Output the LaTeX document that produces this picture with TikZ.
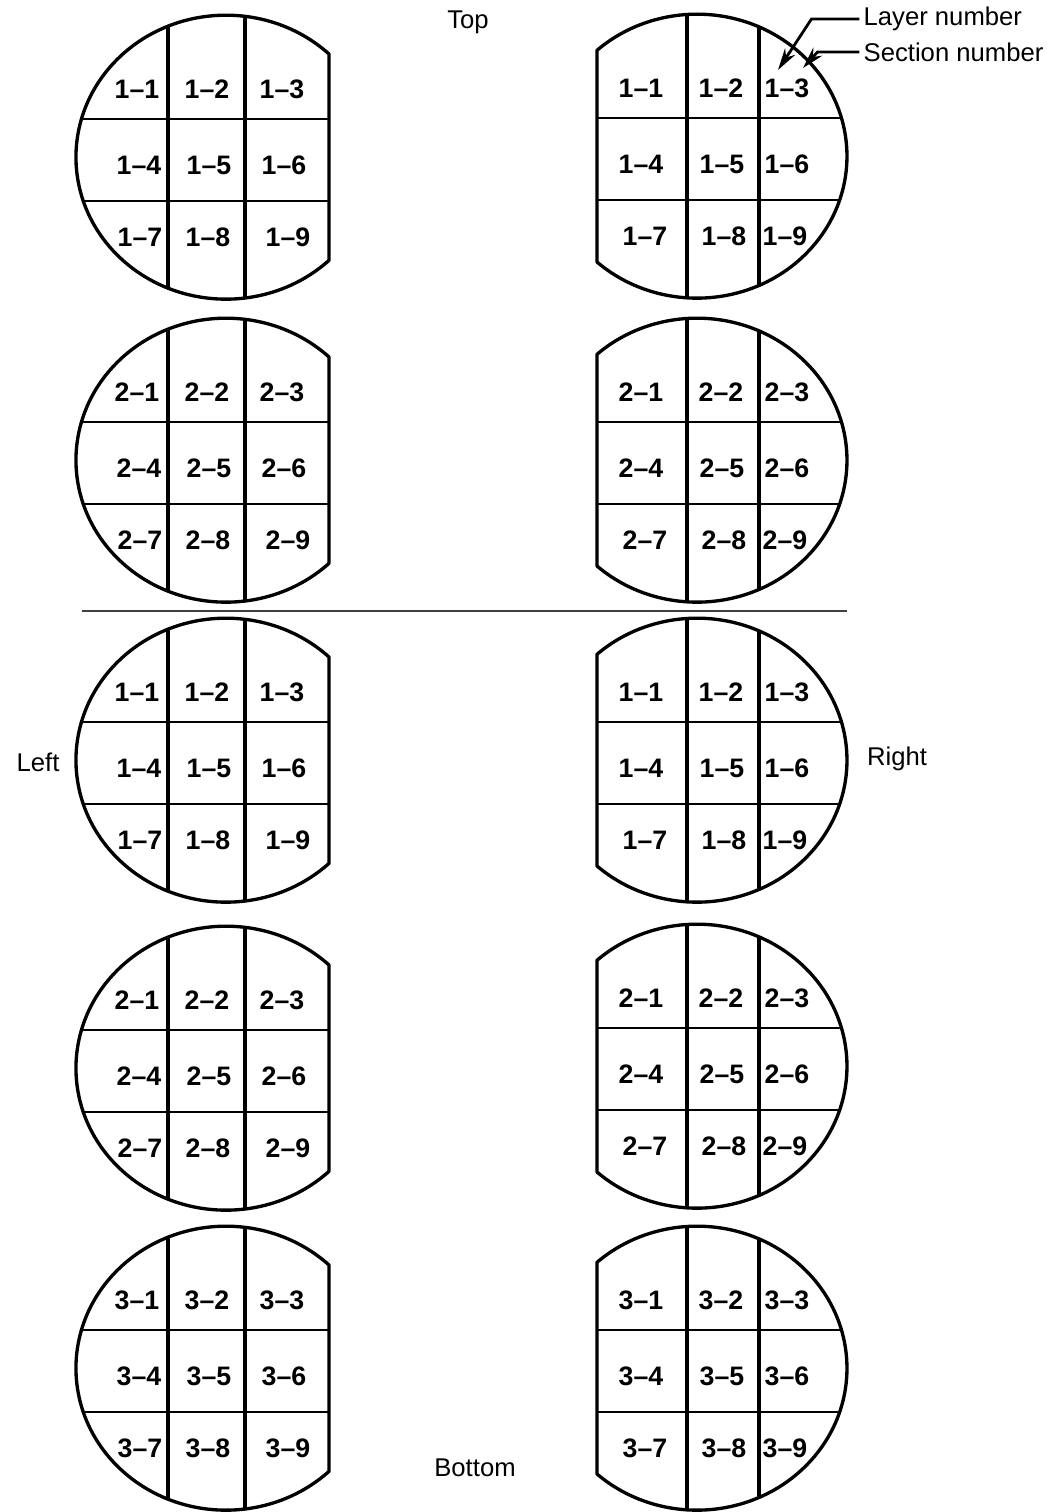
\documentclass[tikz,border=0pt]{standalone}
\usepackage{fontspec}
\setmainfont{Liberation Sans}
\usetikzlibrary{arrows.meta}

\begin{document}
\begin{tikzpicture}[>={Stealth[length=2.2mm,width=1.2mm]},
  rim/.style={line width=0.95pt,line join=round},
  split/.style={line width=0.95pt},
  cut/.style={line width=0.6pt},
  cell/.style={font=\fontsize{7.6}{8}\selectfont\bfseries,inner sep=0pt,text height=1.6ex,text depth=0pt,yshift=1.4pt},
  view/.style={font=\fontsize{7.3}{8}\selectfont,inner sep=0pt}]
\useasboundingbox (0,0) rectangle (10.58,-15.12);

% left column: flat side on the right
\foreach \cy/\lay [count=\k] in {-1.57/1,-4.60/2,-7.60/1,-10.68/2,-13.68/3}{
  \begin{scope}
    \clip (2.26+1.03,\cy+1.03) arc[start angle=46.6,end angle=313.4,x radius=1.5,y radius=1.42] -- cycle;
    \draw[split] (2.26-0.58,\cy+1.5) -- (2.26-0.58,\cy-1.5);
    \draw[split] (2.26+0.19,\cy+1.5) -- (2.26+0.19,\cy-1.5);
    \draw[cut] (0.6,\cy+0.38) -- (3.5,\cy+0.38);
    \draw[cut] (0.6,\cy-0.44) -- (3.5,\cy-0.44);
  \end{scope}
  \draw[rim] (2.26+1.03,\cy+1.03) arc[start angle=46.6,end angle=313.4,x radius=1.5,y radius=1.42] -- cycle;
  \foreach \n/\dx/\dy in {1/-0.89/0.68,2/-0.19/0.68,3/0.56/0.68,4/-0.87/-0.08,5/-0.17/-0.08,6/0.58/-0.08,7/-0.86/-0.80,8/-0.18/-0.80,9/0.62/-0.80}
    \node[cell] (l\k c\n) at (2.26+\dx,\cy+\dy) {\lay--\n};
}

% right column: flat side on the left
\foreach \cy/\lay [count=\k] in {-1.56/1,-4.60/2,-7.60/1,-10.66/2,-13.68/3}{
  \begin{scope}
    \clip (6.97-1.00,\cy-1.06) arc[start angle=228.2,end angle=491.8,x radius=1.5,y radius=1.42] -- cycle;
    \draw[split] (6.97-0.10,\cy+1.5) -- (6.97-0.10,\cy-1.5);
    \draw[split] (6.97+0.62,\cy+1.5) -- (6.97+0.62,\cy-1.5);
    \draw[cut] (5.8,\cy+0.38) -- (8.6,\cy+0.38);
    \draw[cut] (5.8,\cy-0.44) -- (8.6,\cy-0.44);
  \end{scope}
  \draw[rim] (6.97-1.00,\cy-1.06) arc[start angle=228.2,end angle=491.8,x radius=1.5,y radius=1.42] -- cycle;
  \foreach \n/\dx/\dy in {1/-0.56/0.68,2/0.24/0.68,3/0.90/0.68,4/-0.56/-0.08,5/0.25/-0.08,6/0.90/-0.08,7/-0.52/-0.80,8/0.27/-0.80,9/0.88/-0.80}
    \node[cell] (r\k c\n) at (6.97+\dx,\cy+\dy) {\lay--\n};
}

% separator between top and side views
\coordinate (sepA) at (0.82,-6.11);
\coordinate (sepB) at (8.47,-6.11);
\draw[line width=0.8pt,black!75] (sepA) -- (sepB);

\node[view] (top) at (4.68,-0.22) {Top};
\node[view] (bottom) at (4.75,-14.68) {Bottom};
\node[view] (left) at (0.38,-7.62) {Left};
\node[view] (right) at (8.97,-7.59) {Right};

% key
\node[view,anchor=west] (layer) at (8.63,-0.19) {Layer number};
\node[view,anchor=west] (section) at (8.63,-0.52) {Section number};
\coordinate (layertip) at (7.78,-0.70);
\coordinate (sectiontip) at (8.03,-0.68);
\draw[->,line width=0.8pt] ([xshift=-1pt]layer.west) -- ++(-0.48,0) -- (layertip);
\draw[->,line width=0.8pt] ([xshift=-1pt]section.west) -- ++(-0.42,0) -- (sectiontip);
\end{tikzpicture}
\end{document}
